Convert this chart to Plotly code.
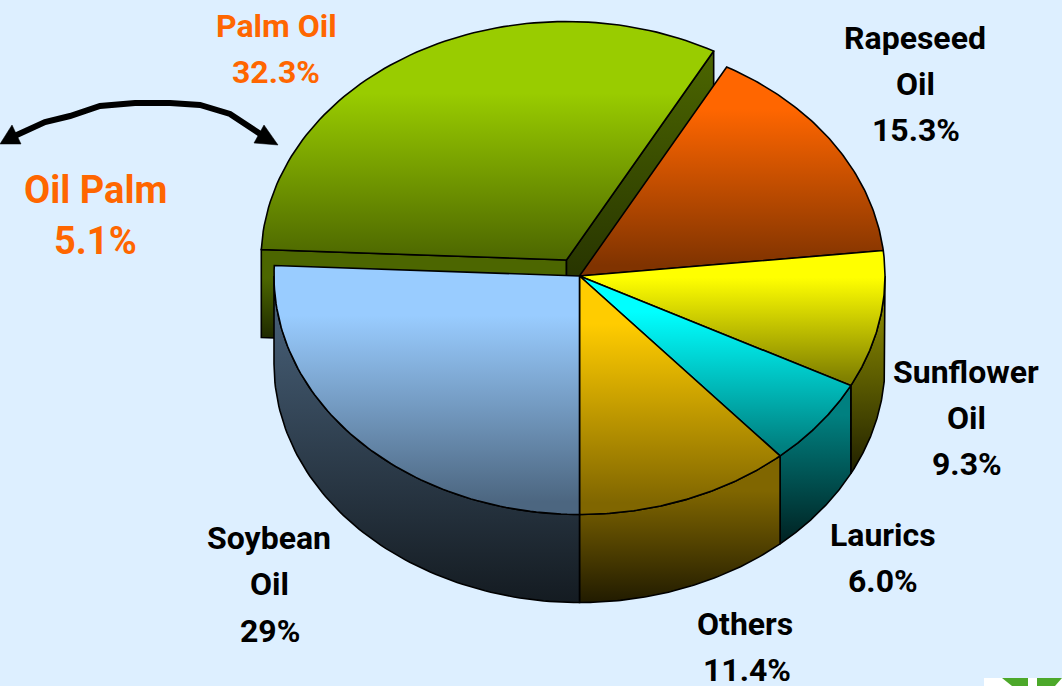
import math
import plotly.graph_objects as go

# Data: drawn slice shares (percent of the drawn pie), starting at the front of the pie
categories = ["Others", "Laurics", "Sunflower Oil", "Rapeseed Oil", "Palm Oil", "Soybean Oil"]
values = [11.4, 6.0, 9.3, 15.3, 32.3, 25.7]
top_colors = ["#FFCC00", "#00FFFF", "#FFFF00", "#FF6600", "#99CC00", "#99CCFF"]

label_lines = [
    ("Palm Oil", 276, 26, "#FF6600", 32), ("32.3%", 276, 72, "#FF6600", 32),
    ("Oil Palm", 95, 190, "#FF6600", 38), ("5.1%", 95, 241, "#FF6600", 38),
    ("Rapeseed", 915, 38, "#000000", 32), ("Oil", 915, 84, "#000000", 32), ("15.3%", 916, 130, "#000000", 32),
    ("Sunflower", 966, 372, "#000000", 32), ("Oil", 966, 418, "#000000", 32), ("9.3%", 967, 464, "#000000", 32),
    ("Laurics", 883, 535, "#000000", 32), ("6.0%", 883, 581, "#000000", 32),
    ("Others", 745, 624, "#000000", 32), ("11.4%", 747, 670, "#000000", 32),
    ("Soybean", 269, 538, "#000000", 32), ("Oil", 269, 584, "#000000", 32), ("29%", 270, 631, "#000000", 32),
]

arrow_x = [8, 45, 70, 100, 135, 170, 200, 230, 268]
arrow_y = [139, 122, 116, 106, 103, 103, 105, 114, 139]
W, H = 1062, 686
CX, CY, RX, RY, DEPTH = 579.5, 276, 305.5, 238.5, 88
EXPLODED = {"Palm Oil": (-13, -16)}
WALL_START = {"Others": 491, "Laurics": 415, "Sunflower Oil": 320}
TOP_STOPS = {"Palm Oil": (0.3, 1.0)}


def shade(hex_color, f):
    r, g, b = (int(hex_color[i:i + 2], 16) for i in (1, 3, 5))
    return f"rgb({r * f:.0f},{g * f:.0f},{b * f:.0f})"


def arc(t0, t1, cx, cy, n=80):
    ts = [math.radians(t0 + (t1 - t0) * i / n) for i in range(n + 1)]
    return [cx + RX * math.sin(t) for t in ts], [cy + RY * math.cos(t) for t in ts]


fig = go.Figure()


def poly(xs, ys, c0, c1, name, start=None, stop=None, width=1.6, stops=(0.0, 1.0)):
    y0 = min(ys) if start is None else start
    y1 = max(ys) if stop is None else stop
    scale = [[0, c0], [stops[0], c0], [stops[1], c1]]
    if stops[1] < 1:
        scale.append([1, c1])
    fig.add_trace(go.Scatter(
        x=xs, y=ys, mode="lines", name=name, fill="toself", hoverinfo="name",
        line=dict(color="#000000", width=width),
        fillgradient=dict(type="vertical", start=y0, stop=y1, colorscale=scale),
    ))


def wall(t0, t1, cx, cy, base, name, start=None):
    ax, ay = arc(t0, t1, cx, cy)
    xs = ax + ax[::-1] + [ax[0]]
    ys = ay + [y + DEPTH for y in ay[::-1]] + [ay[0]]
    poly(xs, ys, shade(base, 0.5), shade(base, 0.13), name, start=start)


def cut_face(px, py, cx, cy, base, name, start=None, f1=0.18):
    xs = [cx, px, px, cx, cx]
    ys = [cy, py, py + DEPTH, cy + DEPTH, cy]
    poly(xs, ys, shade(base, 0.5), shade(base, f1), name, start=start)


# slice angles: 0 deg = front, growing towards the right, the back, then the left
angles = []
acc = 0.0
for v in values:
    angles.append((acc * 3.6, (acc + v) * 3.6))
    acc += v

# back to front painting order
order = ["Palm Oil", "Rapeseed Oil", "Sunflower Oil", "Laurics", "Others", "Soybean Oil"]
for name in order:
    i = categories.index(name)
    t0, t1 = angles[i]
    c = top_colors[i]
    dx, dy = EXPLODED.get(name, (0, 0))
    cx, cy = CX + dx, CY + dy
    ax, ay = arc(t0, t1, cx, cy)
    if name in EXPLODED:
        cut_face(ax[-1], ay[-1], cx, cy, c, name + " side", start=278, f1=0.15)
        cut_face(ax[0], ay[0], cx, cy, c, name + " side")
    # outer rim only where it faces the viewer
    if t0 < 90:
        wall(t0, min(t1, 90), cx, cy, c, name + " rim", start=WALL_START.get(name))
    if t1 > 270:
        wall(max(t0, 270), t1, cx, cy, c, name + " rim")
    poly([cx] + ax + [cx], [cy] + ay + [cy], shade(c, 1), shade(c, 0.5), name,
         stops=TOP_STOPS.get(name, (0.2, 0.95)))

# double-headed arrow for Oil Palm
fig.add_trace(go.Scatter(x=arrow_x, y=arrow_y, mode="lines", hoverinfo="skip",
                         line=dict(color="#000000", width=6), showlegend=False))
for hx, hy in (([0, 12, 21, 0], [144, 125, 144, 144]), ([278, 264, 254, 278], [145, 125, 143, 145])):
    fig.add_trace(go.Scatter(x=hx, y=hy, mode="lines", fill="toself", fillcolor="#000000",
                             line=dict(color="#000000", width=0.5), hoverinfo="skip"))

# corner logo fragment
fig.add_shape(type="rect", x0=984, x1=1062, y0=678, y1=686, fillcolor="#FFFFFF", line_width=0)
fig.add_shape(type="path", path="M1002,678 L1028,678 L1028,686 L1012,686 Z", fillcolor="#4CA82A", line_width=0)
fig.add_shape(type="path", path="M1037,678 L1062,678 L1055,686 L1037,686 Z", fillcolor="#4CA82A", line_width=0)

for text, x, y, color, size in label_lines:
    fig.add_annotation(x=x, y=y, text=text, showarrow=False, xanchor="center", yanchor="middle",
                       font=dict(family="Roboto", size=size, color=color, weight=700))

fig.update_layout(
    width=W, height=H, margin=dict(l=0, r=0, t=0, b=0), showlegend=False,
    paper_bgcolor="#DDEFFF", plot_bgcolor="#DDEFFF",
    xaxis=dict(range=[0, W], visible=False, fixedrange=True),
    yaxis=dict(range=[H, 0], visible=False, fixedrange=True),
)
fig.write_html("out.html", config=dict(displayModeBar=False),
               post_script="document.body.style.margin='0';document.body.style.overflow='hidden';document.body.style.background='#DDEFFF';")
